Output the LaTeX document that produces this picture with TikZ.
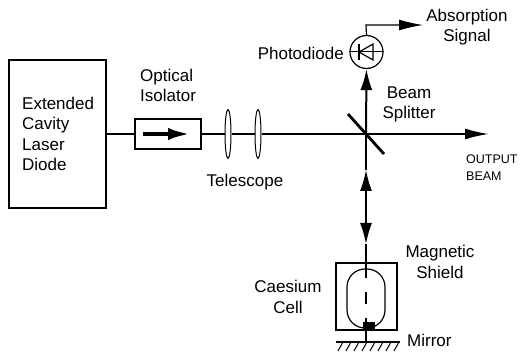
\documentclass[tikz,border=0pt]{standalone}
\usepackage{xcolor}
\usepackage{fontspec}
\setmainfont{Liberation Sans}
\usepackage{tikz}
\usetikzlibrary{calc, arrows.meta, shapes.geometric}
\tikzset{
  txt/.style={inner sep=0pt, font=\fontsize{17}{20.5}\selectfont, align=center},
  txtleft/.style={txt, align=left},
  beam/.style={draw, line width=2pt},
  thinbeam/.style={draw, line width=1.6pt},
  bigarrow/.style={-{Latex[length=24pt,width=11pt]}},
  midarrow/.style={-{Latex[length=21pt,width=12pt]}},
  optic/.style={draw, line width=1.3pt},
  lens/.style={draw, ellipse, line width=1pt, minimum width=6pt, minimum height=49pt, inner sep=0pt},
}
\begin{document}
\begin{tikzpicture}[x=1pt, y=-1pt]
\useasboundingbox (0,0) rectangle (520,358);
\node[optic, minimum width=97pt, minimum height=148pt, inner sep=0pt](laser) at (57.5,134){};
\node[txtleft, anchor=west](laserlabel) at (22,134){Extended\\Cavity\\Laser\\Diode};
\node[draw, line width=1.8pt, minimum width=66pt, minimum height=30pt, inner sep=0pt](isolator) at (168,134){};
\node[txtleft, anchor=west](isolatorlabel) at (140,85.5){Optical\\Isolator};
\node[lens](lensa) at (228,134){};
\node[lens](lensb) at (258,134){};
\node[txt](telescopelabel) at (245,182){Telescope};
\coordinate(split) at (366,134);
\coordinate(splita) at (348,114);
\coordinate(splitb) at (384,154);
\coordinate(output) at (489,134);
\coordinate(upstart) at (366,200);
\coordinate(uptip) at (366,170);
\coordinate(downtip) at (366,244);
\coordinate(celltop) at (366,278);
\node[draw, circle, line width=1.2pt, minimum size=33pt, inner sep=0pt](diode) at (366.5,52){};
\node[txt, anchor=east](diodelabel) at (344,53){Photodiode};
\coordinate(corner) at (366,25);
\coordinate(signal) at (423,25);
\node[txt](signallabel) at (467,27){Absorption\\Signal};
\node[txt](splitterlabel) at (409,104.5){Beam\\Splitter};
\node[inner sep=0pt, align=left, anchor=west, font=\fontsize{12.5}{17}\selectfont](outputlabel) at (466,167.5){OUTPUT\\BEAM};
\node[draw, line width=1.8pt, minimum width=61pt, minimum height=67pt, inner sep=0pt](shield) at (366.5,296.5){};
\node[draw, line width=1.2pt, rounded corners=18pt, minimum width=38pt, minimum height=59pt, inner sep=0pt](cell) at (366,298.5){};
\node[txt](shieldlabel) at (440,262){Magnetic\\Shield};
\node[txt](celllabel) at (288,297){Caesium\\Cell};
\node[fill=black, minimum width=12pt, minimum height=7pt, inner sep=0pt](blob) at (369,326){};
\node[txt, anchor=west](mirrorlabel) at (407,340){Mirror};
\coordinate(mirrora) at (336,342);
\coordinate(mirrorb) at (400,342);
\coordinate(mirrormid) at (366,342);
\coordinate(stuba) at (366,292);
\coordinate(stubb) at (366,304);
\coordinate(stubc) at (366,318);
\coordinate(stubd) at (366,326);
% beams
\path[beam](laser.east |- split) -- (isolator.west);
\path[beam](isolator.east) -- (lensa.west);
\path[beam](lensa.east) -- (lensb.west);
\path[beam](lensb.east) -- (split);
\path[beam, bigarrow](split) -- (output);
\path[draw, line width=2.8pt](splita) -- (splitb);
\path[beam, midarrow](split) -- (diode.south);
\path[thinbeam, midarrow](upstart) -- (uptip);
\path[beam](split) -- (uptip);
\path[thinbeam, midarrow](upstart) -- (downtip);
\path[beam](downtip) -- (celltop);
\path[draw, line width=2pt](stuba) -- (stubb);
\path[beam](stubc) -- (stubd);
\path[beam](stubd) -- (mirrormid);
\path[draw, line width=1.2pt, bigarrow](diode.north) -- (corner) -- (signal);
% isolator arrow
\path[draw, line width=4.5pt, -{Latex[length=24pt,width=12pt]}](143,134) -- (192,134);
% diode symbol
\path[draw, line width=1pt](diode.west) -- (diode.east);
\path[draw, line width=1.2pt](359,44) -- (359,60);
\path[draw, line width=1.2pt](359,52) -- (373,44) -- (373,60) -- cycle;
% mirror hatching
\path[draw, line width=1.6pt](mirrora) -- (mirrorb);
\foreach \x in {343,351,...,399}
  \path[draw, line width=1pt](\x,342) -- ++(-5,9);
\end{tikzpicture}
\end{document}
